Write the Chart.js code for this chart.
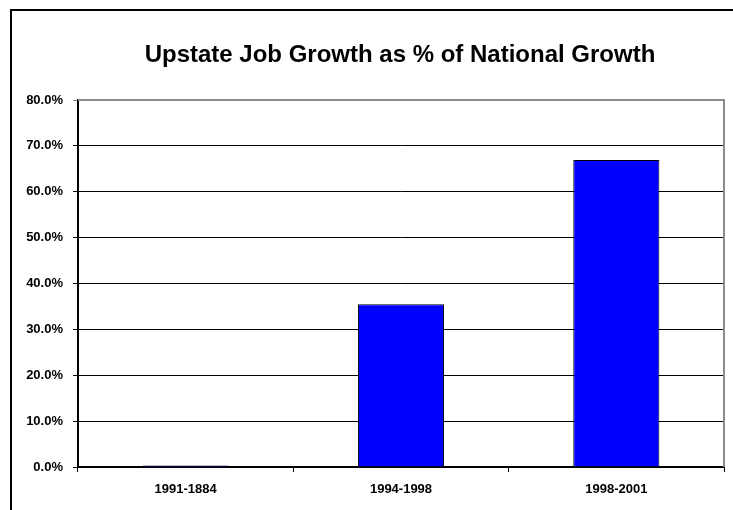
<!DOCTYPE html>
<html>
<head>
<meta charset="utf-8">
<script src="https://cdn.jsdelivr.net/npm/chart.js@4/dist/chart.umd.min.js"></script>
<style>
  html, body { margin: 0; padding: 0; background: #fff; }
  #wrap { position: relative; width: 733px; height: 510px; }
</style>
</head>
<body>
<div id="wrap"><canvas id="jobChart" width="733" height="510"></canvas></div>
<script>
  // chart data
  const periods = ['1991-1884', '1994-1998', '1998-2001'];
  const upstateShare = [0.3, 35.5, 66.9];
  const chartTitle = 'Upstate Job Growth as % of National Growth';

  const fontFamily = '"Liberation Sans", Arial, Helvetica, sans-serif';

  // frame, title and grey plot border
  const decor = {
    id: 'decor',
    beforeDraw(chart) {
      const ctx = chart.ctx;
      ctx.save();
      ctx.fillStyle = '#fff';
      ctx.fillRect(0, 0, chart.width, chart.height);
      ctx.fillStyle = '#000';
      ctx.fillRect(10, 9, chart.width, 2);
      ctx.fillRect(10, 9, 2, chart.height);
      ctx.restore();
    },
    afterDraw(chart) {
      const ctx = chart.ctx;
      const a = chart.chartArea;
      ctx.save();
      ctx.strokeStyle = '#8c8c8c';
      ctx.lineWidth = 2;
      ctx.beginPath();
      ctx.moveTo(a.left, a.top);
      ctx.lineTo(a.right, a.top);
      ctx.lineTo(a.right, a.bottom);
      ctx.stroke();
      ctx.fillStyle = '#000';
      ctx.font = 'bold 24px ' + fontFamily;
      ctx.textAlign = 'center';
      ctx.textBaseline = 'middle';
      ctx.fillText(chartTitle, 400, 55);
      ctx.restore();
    }
  };

  new Chart(document.getElementById('jobChart'), {
    type: 'bar',
    data: {
      labels: periods,
      datasets: [{
        data: upstateShare,
        backgroundColor: '#0000ff',
        borderColor: '#000',
        borderWidth: 1,
        barPercentage: 0.4,
        categoryPercentage: 1
      }]
    },
    options: {
      responsive: false,
      animation: false,
      layout: { padding: { top: 100, left: 0, right: 9, bottom: 0 } },
      plugins: {
        legend: { display: false },
        title: { display: false },
        tooltip: { enabled: false }
      },
      scales: {
        x: {
          offset: true,
          afterFit(scale) { scale.height = 43; },
          grid: {
            offset: true,
            drawOnChartArea: false,
            drawTicks: true,
            tickLength: 5,
            color: '#000'
          },
          border: { color: '#000', width: 2 },
          ticks: {
            color: '#000',
            padding: 10,
            font: { family: fontFamily, size: 13, weight: 'bold' }
          }
        },
        y: {
          min: 0,
          max: 80,
          afterFit(scale) { scale.width = 78; },
          grid: {
            color: ctx => ctx.index === 8 ? '#8c8c8c' : '#000',
            tickLength: 5
          },
          border: { color: '#000', width: 2 },
          ticks: {
            stepSize: 10,
            color: '#000',
            padding: 10,
            font: { family: fontFamily, size: 13, weight: 'bold' },
            callback: v => v.toFixed(1) + '%'
          }
        }
      }
    },
    plugins: [decor]
  });
</script>
</body>
</html>
